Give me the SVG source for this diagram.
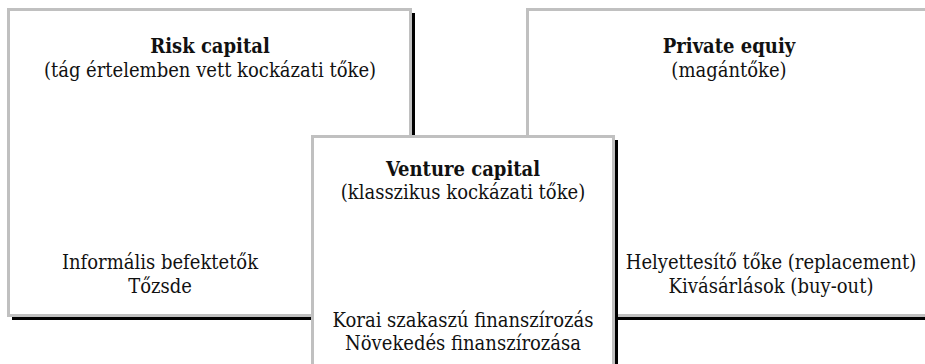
<svg xmlns="http://www.w3.org/2000/svg" width="925" height="364" viewBox="0 0 925 364">
  <style>
    .shadow { fill: #000; }
    .box { fill: #fff; stroke: #c0c0c0; stroke-width: 3; }
    text { font-family: "DejaVu Serif Condensed", "DejaVu Serif", "Liberation Serif", serif; font-size: 20px; fill: #111; text-anchor: middle; }
    .title { font-weight: bold; }
  </style>
  <rect width="925" height="364" fill="#fff"/>
  <g id="risk-capital">
    <rect class="shadow" x="12" y="13" width="403" height="307"/>
    <rect class="box" x="8.5" y="9.5" width="402" height="306"/>
    <text class="title" x="210" y="53">Risk capital</text>
    <text x="210" y="77">(tág értelemben vett kockázati tőke)</text>
    <text x="160" y="269">Informális befektetők</text>
    <text x="160" y="293">Tőzsde</text>
  </g>
  <g id="private-equity">
    <rect class="shadow" x="531" y="13" width="420" height="307"/>
    <rect class="box" x="527.5" y="9.5" width="420" height="306"/>
    <text class="title" x="729" y="53">Private equiy</text>
    <text x="729" y="77">(magántőke)</text>
    <text x="771" y="269">Helyettesítő tőke (replacement)</text>
    <text x="771" y="293">Kivásárlások (buy-out)</text>
  </g>
  <g id="venture-capital">
    <rect class="shadow" x="316" y="140" width="302" height="240"/>
    <rect class="box" x="312.5" y="136.5" width="301" height="240"/>
    <text class="title" x="463" y="176">Venture capital</text>
    <text x="463" y="199">(klasszikus kockázati tőke)</text>
    <text x="463" y="327">Korai szakaszú finanszírozás</text>
    <text x="463" y="350">Növekedés finanszírozása</text>
  </g>
  <g id="connectors"/>
</svg>
